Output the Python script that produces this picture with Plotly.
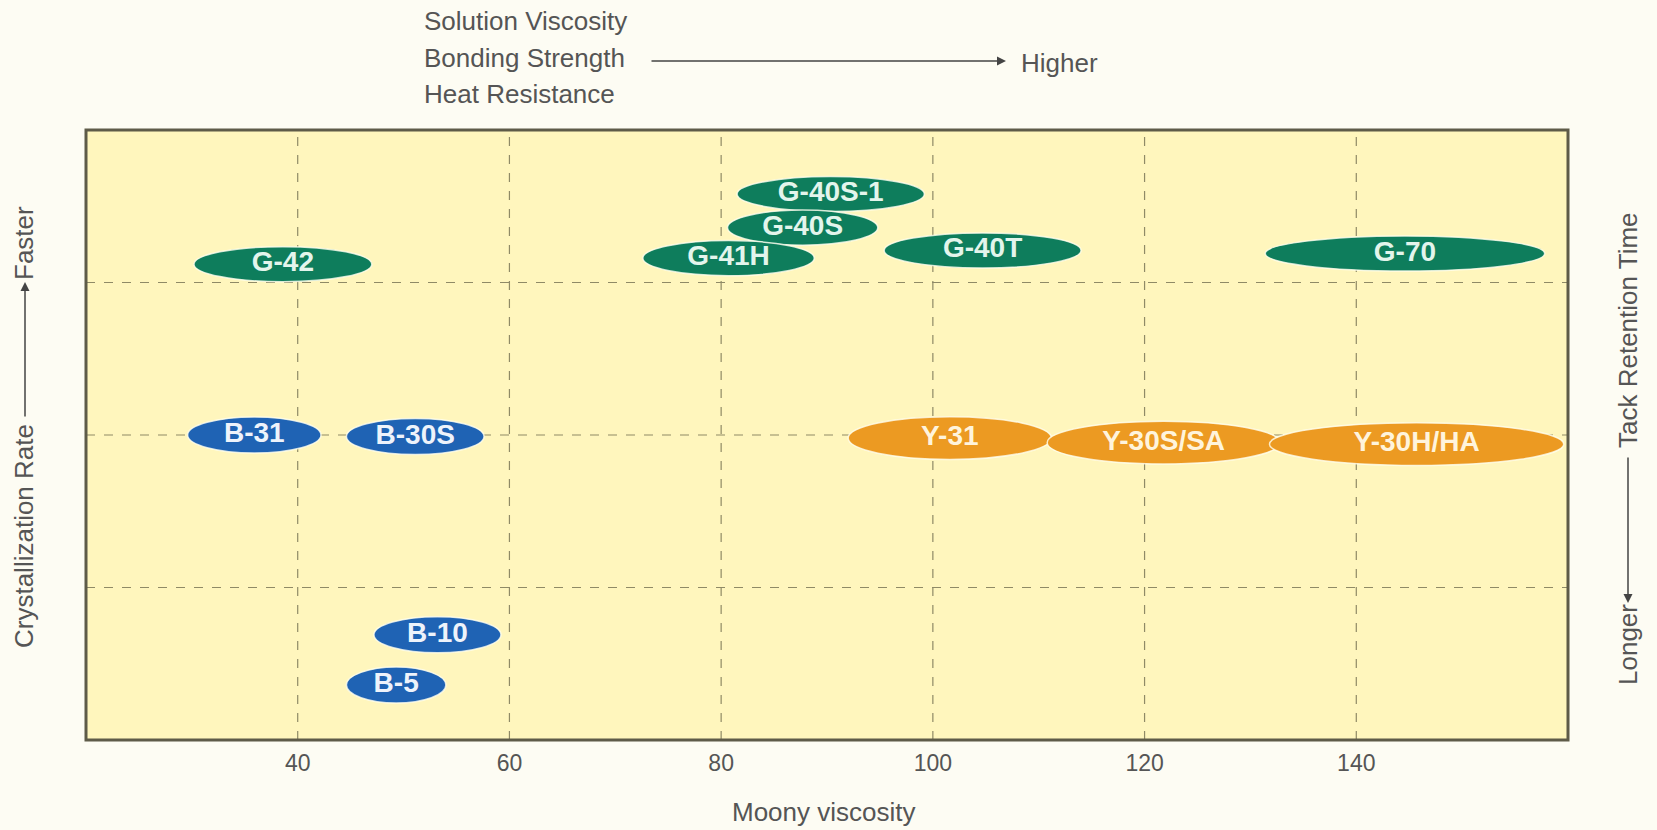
import plotly.graph_objects as go

# ---- data ----
grades = ["G-40S-1", "G-40S", "G-42", "G-41H", "G-40T", "G-70",
          "B-31", "B-30S", "Y-31", "Y-30S/SA", "Y-30H/HA", "B-10", "B-5"]
family = ["G", "G", "G", "G", "G", "G", "B", "B", "Y", "Y", "Y", "B", "B"]
# Mooney viscosity span of each grade
mooney_low = [81.5, 80.6, 30.2, 72.6, 95.4, 131.4, 29.6, 44.6, 92.0, 110.8, 131.8, 47.2, 44.6]
mooney_high = [99.2, 94.8, 47.0, 88.8, 114.0, 157.8, 42.2, 57.6, 111.2, 132.8, 159.6, 59.2, 54.0]
# crystallization-rate level (0 = slowest, 4 = fastest)
cryst_level = [3.58, 3.36, 3.12, 3.16, 3.21, 3.19, 2.0, 1.99, 1.98, 1.95, 1.94, 0.69, 0.36]

x_ticks = [40, 60, 80, 100, 120, 140]
y_grid = [1, 2, 3]

fill = {"G": "#0e7d5c", "B": "#1f63b4", "Y": "#ec9a22"}
txt_col = {"G": "#e3f5ec", "B": "#eef3fb", "Y": "#fff4dc"}
half_h = {"G": 0.115, "B": 0.118, "Y": 0.14}

FONT = "Liberation Sans, Arial, sans-serif"
L, T, W, H = 86, 130, 1482, 610  # plot box in px


def px(xp):
    return (xp - L) / W


def py(yp):
    return (T + H - yp) / H


fig = go.Figure()

grid_col = "#8f8a66"
shapes = []
for v in x_ticks:
    shapes.append(dict(type="line", xref="x", yref="paper", x0=v, x1=v, y0=0, y1=1,
                       line=dict(color=grid_col, width=1.2, dash="dash"), layer="below"))
for v in y_grid:
    shapes.append(dict(type="line", xref="paper", yref="y", x0=0, x1=1, y0=v, y1=v,
                       line=dict(color=grid_col, width=1.2, dash="dash"), layer="below"))
for g, f, lo, hi, yc in zip(grades, family, mooney_low, mooney_high, cryst_level):
    shapes.append(dict(type="circle", xref="x", yref="y", x0=lo, x1=hi,
                       y0=yc - half_h[f], y1=yc + half_h[f],
                       fillcolor=fill[f], line=dict(color="rgba(255,255,240,0.8)", width=1.5),
                       layer="below"))
# frame
shapes.append(dict(type="rect", xref="paper", yref="paper", x0=0, x1=1, y0=0, y1=1,
                   line=dict(color="#5e5b48", width=3), layer="above"))

for f in ["G", "B", "Y"]:
    idx = [i for i, v in enumerate(family) if v == f]
    fig.add_trace(go.Scatter(
        x=[(mooney_low[i] + mooney_high[i]) / 2 for i in idx],
        y=[cryst_level[i] for i in idx],
        text=[grades[i] for i in idx],
        mode="text",
        textfont=dict(family=FONT, size=28, color=txt_col[f], weight="bold"),
        hoverinfo="text", showlegend=False))

txt_font = dict(family=FONT, size=26, color="#555555")
annotations = []
top_lines = ["Solution Viscosity", "Bonding Strength", "Heat Resistance"]
top_y = [21, 58, 94]
for t, yy in zip(top_lines, top_y):
    annotations.append(dict(xref="paper", yref="paper", x=px(422), y=py(yy),
                            text=t, showarrow=False, xanchor="left", yanchor="middle",
                            font=txt_font))
annotations.append(dict(xref="paper", yref="paper", x=px(1019), y=py(63),
                        text="Higher", showarrow=False, xanchor="left", yanchor="middle",
                        font=txt_font))
arrow_style = dict(text="", showarrow=True, arrowhead=2, arrowsize=1.2, arrowwidth=1.5,
                   arrowcolor="#444444", axref="pixel", ayref="pixel",
                   xref="paper", yref="paper")
annotations.append(dict(x=px(1006), y=py(61), ax=-356, ay=0, **arrow_style))
# left vertical label
annotations.append(dict(xref="paper", yref="paper", x=px(24), y=py(536),
                        text="Crystallization Rate", textangle=-90, showarrow=False,
                        xanchor="center", yanchor="middle", font=txt_font))
annotations.append(dict(xref="paper", yref="paper", x=px(24), y=py(243),
                        text="Faster", textangle=-90, showarrow=False,
                        xanchor="center", yanchor="middle", font=txt_font))
annotations.append(dict(x=px(25), y=py(282), ax=0, ay=136, **arrow_style))
# right vertical label
annotations.append(dict(xref="paper", yref="paper", x=px(1628), y=py(330),
                        text="Tack Retention Time", textangle=-90, showarrow=False,
                        xanchor="center", yanchor="middle", font=txt_font))
annotations.append(dict(xref="paper", yref="paper", x=px(1628), y=py(645),
                        text="Longer", textangle=-90, showarrow=False,
                        xanchor="center", yanchor="middle", font=txt_font))
annotations.append(dict(x=px(1628), y=py(603), ax=0, ay=-147, **arrow_style))
# x title
annotations.append(dict(xref="paper", yref="paper", x=px(824), y=py(812),
                        text="Moony viscosity", showarrow=False, xanchor="center",
                        yanchor="middle", font=txt_font))

fig.update_layout(
    width=1657, height=830,
    margin=dict(l=L, r=1657 - L - W, t=T, b=830 - T - H, autoexpand=False),
    paper_bgcolor="#fdfcf3", plot_bgcolor="#fff6bd",
    shapes=shapes, annotations=annotations,
    xaxis=dict(range=[20, 160], tickvals=x_ticks, showgrid=False, zeroline=False,
               ticks="outside", ticklen=2, tickcolor="rgba(0,0,0,0)",
               tickfont=dict(family=FONT, size=23, color="#555555"), fixedrange=True),
    yaxis=dict(range=[0, 4], showgrid=False, zeroline=False, showticklabels=False,
               fixedrange=True),
)
fig.write_html("out.html", config={"displayModeBar": False},
               post_script="document.body.style.margin='0';")
